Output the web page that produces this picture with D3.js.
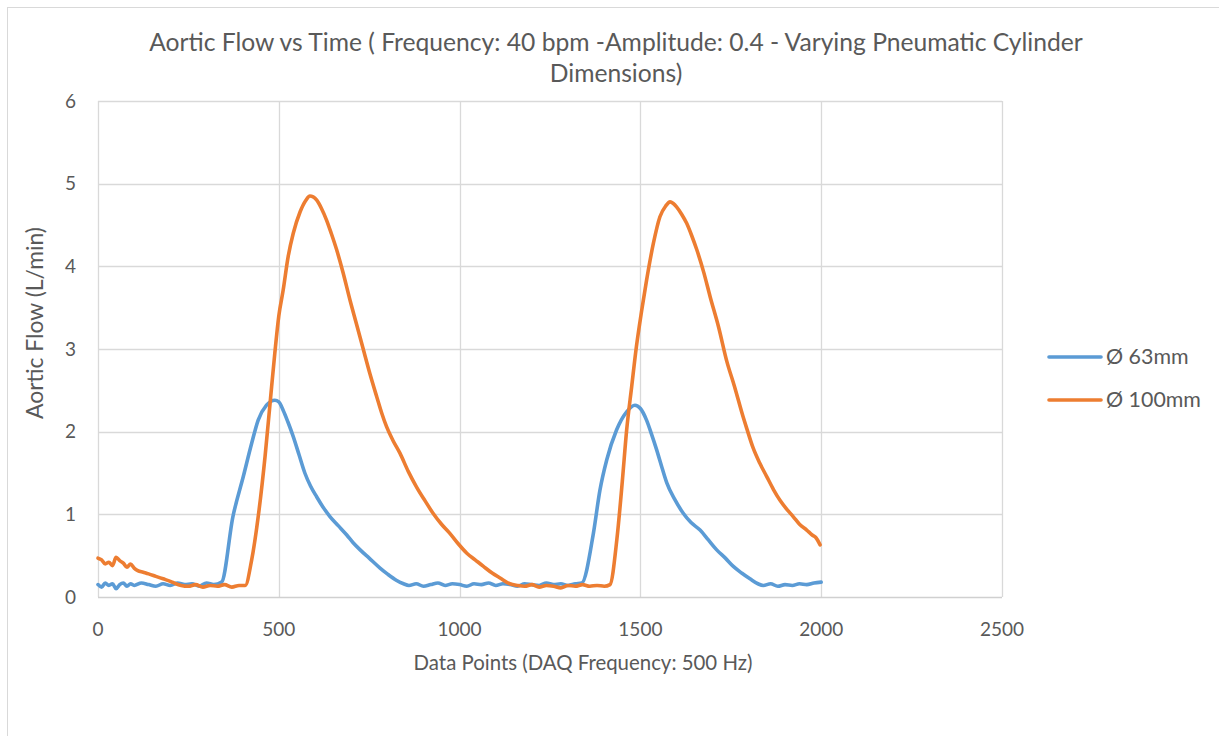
<!DOCTYPE html>
<html>
<head>
<meta charset="utf-8">
<script src="https://cdn.jsdelivr.net/npm/d3@7"></script>
<style>
  body { margin: 0; background: #fff; }
  text { font-family: Lato, "Open Sans", sans-serif; fill: #595959; }
</style>
</head>
<body>
<script>
let width = 1219,
    height = 736;

// data
let seriesNames = ["Ø 63mm", "Ø 100mm"];
let seriesColors = ["#5B9BD5", "#ED7D31"];

let blueX = [0,10,20,30,40,50,60,70,80,90,100,120,140,160,180,200,220,240,260,280,300,320,342,
  373,402,425,443,466,489,500,512,525,540,556,572,588,605,622,642,665,688,705,725,750,780,800,826,845,
  860,880,900,920,940,960,980,1000,1020,1040,1060,1080,1100,1120,1140,1160,1180,1200,1220,1240,1260,1280,1300,1320,1338,
  1370,1388,1407,1434,1462,1485,1500,1517,1530,1545,1560,1573,1595,1619,1640,1665,1688,1711,1735,1757,1780,1803,1825,
  1840,1860,1880,1900,1920,1940,1960,1980,2000];
let blueY = [0.15,0.12,0.17,0.14,0.16,0.10,0.15,0.17,0.13,0.16,0.14,0.17,0.15,0.13,0.16,0.14,0.17,0.15,0.16,0.13,0.17,0.15,0.18,
  0.97,1.46,1.86,2.14,2.32,2.38,2.36,2.26,2.12,1.94,1.72,1.50,1.34,1.21,1.09,0.97,0.86,0.75,0.66,0.57,0.47,0.35,0.28,0.20,0.16,
  0.14,0.16,0.13,0.15,0.17,0.14,0.16,0.15,0.13,0.16,0.15,0.17,0.14,0.16,0.15,0.13,0.16,0.15,0.14,0.17,0.15,0.16,0.14,0.16,0.17,
  0.77,1.29,1.66,2.02,2.24,2.32,2.28,2.14,1.98,1.78,1.56,1.38,1.18,1.01,0.90,0.81,0.69,0.57,0.47,0.37,0.29,0.22,0.16,
  0.14,0.16,0.13,0.15,0.14,0.16,0.15,0.17,0.18];

let orangeX = [0,10,20,30,40,50,60,70,80,90,100,110,125,140,160,180,200,215,230,250,270,290,310,330,350,370,390,407,
  425,443,462,476,489,500,512,526,540,559,575,586,595,605,618,632,645,660,678,697,715,734,752,771,785,798,815,835,858,881,
  905,927,950,973,995,1020,1043,1066,1090,1112,1139,1160,1180,1200,1220,1240,1260,1280,1300,1320,1340,1360,1380,1400,1416,
  1435,1450,1462,1476,1489,1503,1517,1536,1554,1570,1582,1591,1600,1614,1628,1642,1656,1675,1693,1716,1739,1760,1784,1794,
  1812,1830,1849,1868,1886,1905,1923,1940,1960,1975,1985,1997];
let orangeY = [0.47,0.45,0.40,0.42,0.38,0.48,0.44,0.41,0.36,0.40,0.35,0.32,0.30,0.28,0.25,0.22,0.19,0.16,0.14,0.13,0.15,0.12,0.14,0.13,0.15,0.12,0.14,0.14,
  0.45,0.97,1.70,2.35,2.95,3.40,3.71,4.12,4.40,4.66,4.80,4.85,4.84,4.80,4.70,4.56,4.40,4.20,3.92,3.59,3.30,2.99,2.70,2.42,2.22,2.06,1.90,1.74,1.52,1.33,
  1.16,1.01,0.88,0.77,0.65,0.53,0.45,0.37,0.29,0.23,0.16,0.14,0.13,0.15,0.12,0.14,0.13,0.11,0.14,0.13,0.15,0.13,0.14,0.13,0.15,
  0.70,1.40,2.02,2.55,3.03,3.45,3.83,4.28,4.60,4.73,4.78,4.76,4.72,4.63,4.52,4.37,4.20,3.93,3.63,3.27,2.85,2.55,2.18,2.04,
  1.80,1.62,1.46,1.30,1.17,1.06,0.97,0.88,0.81,0.75,0.72,0.63];

let xTicks = [0, 500, 1000, 1500, 2000, 2500];
let yTicks = [0, 1, 2, 3, 4, 5, 6];

let titleLines = ["Aortic Flow vs Time ( Frequency: 40 bpm -Amplitude: 0.4 - Varying Pneumatic Cylinder", "Dimensions)"];
let xTitle = "Data Points (DAQ Frequency: 500 Hz)";
let yTitle = "Aortic Flow (L/min)";

let svg = d3.select("body").append("svg")
    .attr("width", width)
    .attr("height", height);

svg.append("rect")
    .attr("width", width).attr("height", height)
    .attr("fill", "#fff");

// chart area border (only top/left visible)
svg.append("rect")
    .attr("x", 7.5).attr("y", 7.5)
    .attr("width", 1400).attr("height", 900)
    .attr("fill", "none")
    .attr("stroke", "#D9D9D9")
    .attr("stroke-width", 1);

let x = d3.scaleLinear().domain([0, 2500]).range([98, 1002]);
let y = d3.scaleLinear().domain([0, 6]).range([597, 101]);

// fit a text element to a target pixel width
let fit = function(sel, target) {
  let w = sel.node().getComputedTextLength();
  let fs = parseFloat(sel.attr("font-size"));
  sel.attr("font-size", (fs * target / w).toFixed(2) + "px");
}

// grid
svg.append("g").selectAll("line.h")
  .data(yTicks.filter(d => d > 0))
  .enter().append("line")
    .attr("x1", x(0)).attr("x2", x(2500))
    .attr("y1", d => Math.round(y(d)) + 0.5).attr("y2", d => Math.round(y(d)) + 0.5)
    .attr("stroke", "#D9D9D9").attr("stroke-width", 1.3);

svg.append("g").selectAll("line.v")
  .data(xTicks)
  .enter().append("line")
    .attr("x1", d => Math.round(x(d)) + 0.5).attr("x2", d => Math.round(x(d)) + 0.5)
    .attr("y1", y(6)).attr("y2", y(0))
    .attr("stroke", "#D9D9D9").attr("stroke-width", 1.3);

// x axis line
svg.append("line")
    .attr("x1", x(0)).attr("x2", x(2500))
    .attr("y1", Math.round(y(0)) + 0.5).attr("y2", Math.round(y(0)) + 0.5)
    .attr("stroke", "#D0D0D0").attr("stroke-width", 1.5);

// tick labels
svg.append("g").selectAll("text")
  .data(yTicks)
  .enter().append("text")
    .attr("x", 76)
    .attr("y", d => y(d))
    .attr("dy", "0.35em")
    .attr("text-anchor", "end")
    .attr("font-size", "19px")
    .text(d => d);

svg.append("g").selectAll("text")
  .data(xTicks)
  .enter().append("text")
    .attr("x", d => x(d))
    .attr("y", 629)
    .attr("dy", "0.35em")
    .attr("text-anchor", "middle")
    .attr("font-size", "19px")
    .text(d => d);

// series
let line = d3.line()
    .curve(d3.curveMonotoneX)
    .x(d => x(d[0]))
    .y(d => y(d[1]));

let series = [
  d3.zip(blueX, blueY),
  d3.zip(orangeX, orangeY)
];

series.forEach(function(s, i) {
  svg.append("path")
      .datum(s)
      .attr("d", line)
      .attr("fill", "none")
      .attr("stroke", seriesColors[i])
      .attr("stroke-width", 3.6)
      .attr("stroke-linejoin", "round")
      .attr("stroke-linecap", "round");
});

// titles
let t1 = svg.append("text")
    .attr("x", 616).attr("y", 42).attr("dy", "0.35em")
    .attr("text-anchor", "middle")
    .attr("font-size", "20px")
    .text(titleLines[0]);
fit(t1, 934);

svg.append("text")
    .attr("x", 616).attr("y", 73).attr("dy", "0.35em")
    .attr("text-anchor", "middle")
    .attr("font-size", t1.attr("font-size"))
    .text(titleLines[1]);

let xt = svg.append("text")
    .attr("x", 583).attr("y", 663).attr("dy", "0.35em")
    .attr("text-anchor", "middle")
    .attr("font-size", "18px")
    .text(xTitle);
fit(xt, 339);

let yt = svg.append("text")
    .attr("transform", "translate(35,323) rotate(-90)")
    .attr("dy", "0.35em")
    .attr("text-anchor", "middle")
    .attr("font-size", "18px")
    .text(yTitle);
fit(yt, 192);

// legend
let legendY = [357, 400];
let legendSize = null;
[1, 0].forEach(function(i) {
  svg.append("line")
      .attr("x1", 1049).attr("x2", 1101)
      .attr("y1", legendY[i]).attr("y2", legendY[i])
      .attr("stroke", seriesColors[i])
      .attr("stroke-width", 3.6)
      .attr("stroke-linecap", "round");
  let lt = svg.append("text")
      .attr("x", 1106).attr("y", legendY[i]).attr("dy", "0.35em")
      .attr("font-size", legendSize || "18px")
      .text(seriesNames[i]);
  if (!legendSize) { fit(lt, 95); legendSize = lt.attr("font-size"); }
});
</script>
</body>
</html>
